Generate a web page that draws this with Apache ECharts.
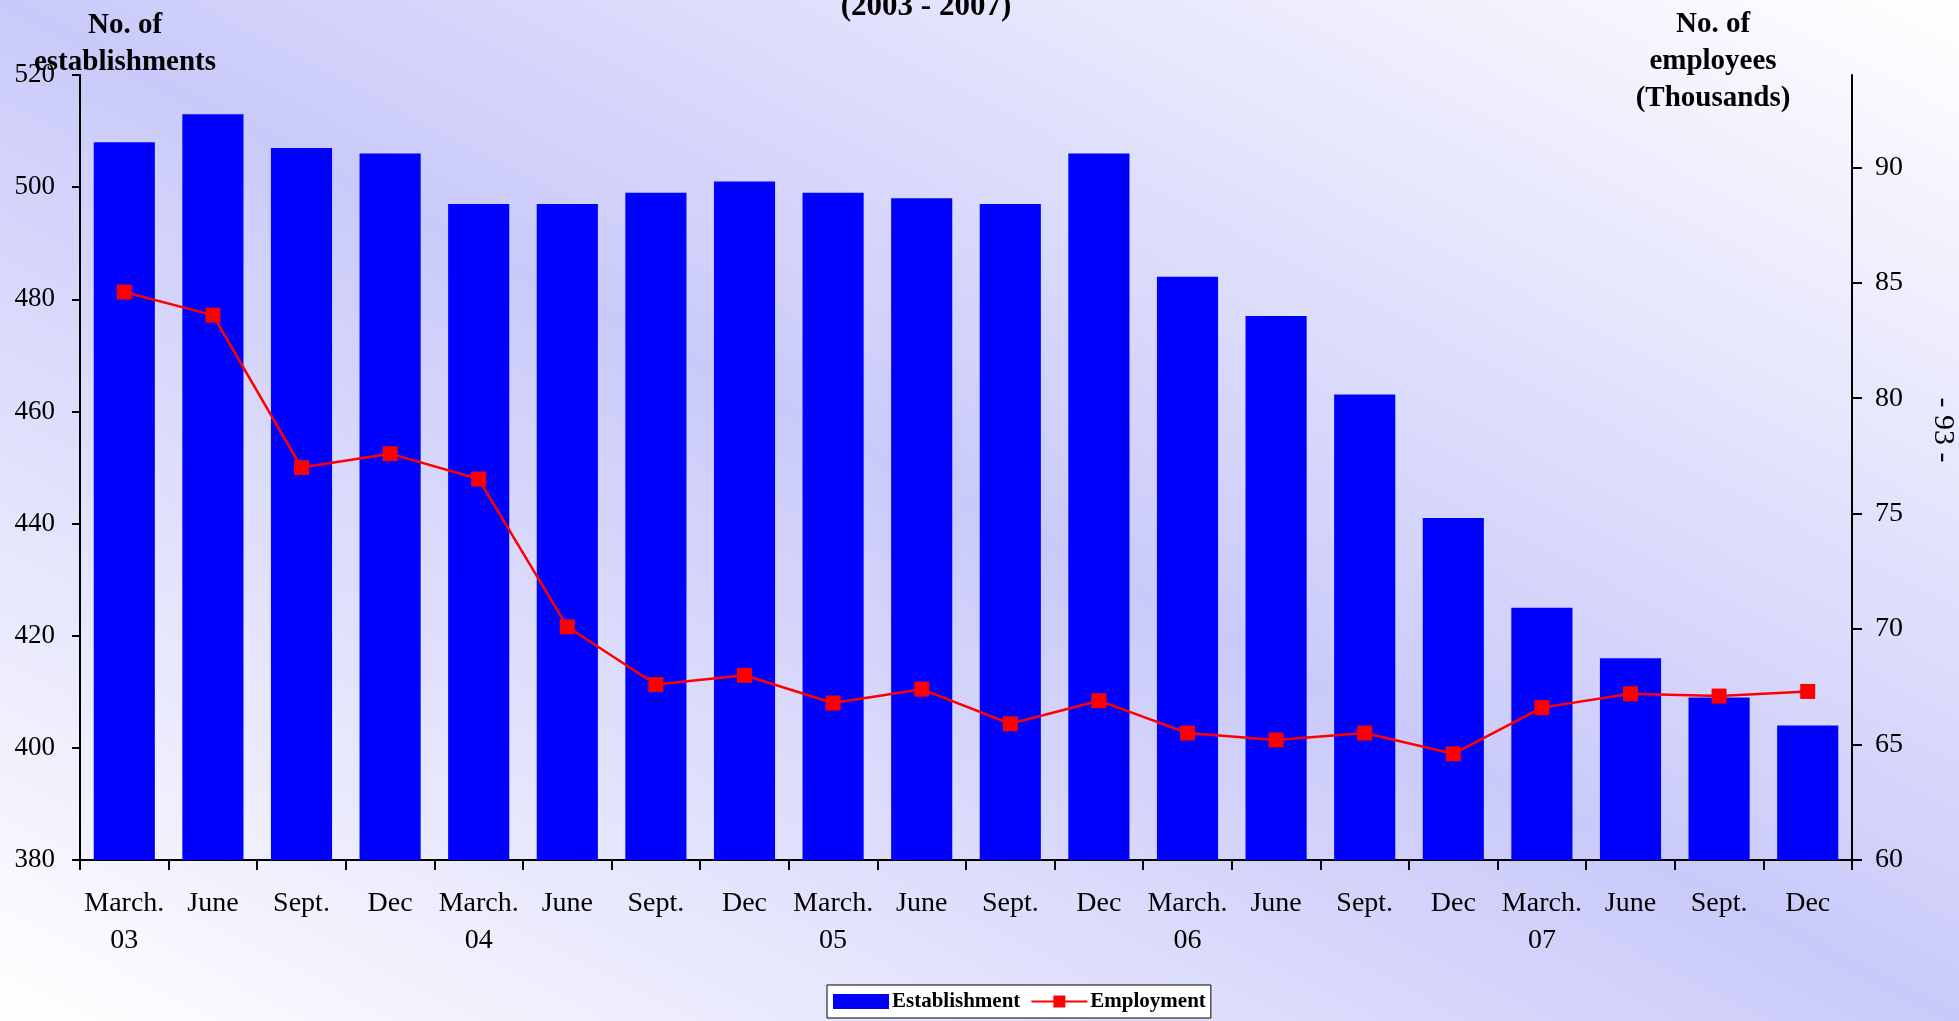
<!DOCTYPE html>
<html lang="en">
	<head>
		<meta charset="UTF-8">
		<title>Establishment and Employment</title>
		<script src="https://cdn.jsdelivr.net/npm/echarts@6/dist/echarts.min.js"></script>
		<style type="text/css">
			html, body {
				margin: 0;
				padding: 0;
				overflow: hidden;
			}
			#main {
				width: 1959px;
				height: 1021px;
			}
		</style>
	</head>
	<body>
		<div id="main"></div>
	</body>
	<script type="text/javascript">
		// 数据
		var quarters = ['March.\n03', 'June', 'Sept.', 'Dec', 'March.\n04', 'June', 'Sept.', 'Dec',
			'March.\n05', 'June', 'Sept.', 'Dec', 'March.\n06', 'June', 'Sept.', 'Dec',
			'March.\n07', 'June', 'Sept.', 'Dec'];
		var establishment = [508, 513, 507, 506, 497, 497, 499, 501, 499, 498, 497, 506,
			484, 477, 463, 441, 425, 416, 409, 404];
		var employment = [84.6, 83.6, 77.0, 77.6, 76.5, 70.1, 67.6, 68.0, 66.8, 67.4, 65.9, 66.9,
			65.5, 65.2, 65.5, 64.6, 66.6, 67.2, 67.1, 67.3];
		var rightTicks = [60, 65, 70, 75, 80, 85, 90];

		var serif = '"Liberation Serif", "Times New Roman", serif';
		var chart = echarts.init(document.getElementById('main'));

		option = {
			backgroundColor: {
				type: 'linear',
				x: 0, y: 1021, x2: 837, y2: -585,
				global: true,
				colorStops: [
					{ offset: 0, color: '#ffffff' },
					{ offset: 0.5, color: '#cacafa' },
					{ offset: 1, color: '#ffffff' }
				]
			},
			textStyle: { fontFamily: serif },
			animation: false,
			grid: {
				left: 80,
				right: 107,
				top: 75,
				bottom: 161
			},
			legend: {
				left: 827,
				top: 985,
				padding: [6, 5, 6, 6],
				itemWidth: 56,
				itemHeight: 15,
				itemGap: 10,
				backgroundColor: '#ffffff',
				borderColor: '#000000',
				borderWidth: 1,
				borderRadius: 0,
				textStyle: {
					fontFamily: serif,
					fontWeight: 'bold',
					fontSize: 21,
					color: '#000000',
					padding: [0, 0, 0, -2]
				},
				data: [
					{ name: 'Establishment', icon: 'rect' },
					{ name: 'Employment' }
				]
			},
			xAxis: {
				type: 'category',
				data: quarters,
				boundaryGap: true,
				axisLine: { lineStyle: { color: '#000000', width: 2 } },
				axisTick: { show: true, interval: 0, length: 10, lineStyle: { color: '#000000', width: 2 } },
				axisLabel: {
					interval: 0,
					margin: 25,
					color: '#000000',
					fontFamily: serif,
					fontSize: 28,
					lineHeight: 37
				},
				splitLine: { show: false }
			},
			yAxis: [
				{
					type: 'value',
					position: 'left',
					min: 380,
					max: 520,
					interval: 20,
					axisLine: { show: true, lineStyle: { color: '#000000', width: 2 } },
					axisTick: { show: true, length: 8, lineStyle: { color: '#000000', width: 2 } },
					axisLabel: { margin: 25, color: '#000000', fontFamily: serif, fontSize: 27 },
					splitLine: { show: false }
				},
				{
					type: 'value',
					position: 'right',
					min: 60,
					max: 94,
					interval: 5,
					axisLine: { show: true, lineStyle: { color: '#000000', width: 2 } },
					axisTick: { show: true, length: 10, customValues: rightTicks, lineStyle: { color: '#000000', width: 2 } },
					axisLabel: { margin: 23, customValues: rightTicks, color: '#000000', fontFamily: serif, fontSize: 28 },
					splitLine: { show: false }
				}
			],
			series: [
				{
					name: 'Establishment',
					type: 'bar',
					yAxisIndex: 0,
					barCategoryGap: '31%',
					itemStyle: { color: '#0000ff' },
					data: establishment
				},
				{
					name: 'Employment',
					type: 'line',
					yAxisIndex: 1,
					symbol: 'rect',
					symbolSize: 15,
					itemStyle: { color: '#ff0000' },
					lineStyle: { color: '#ff0000', width: 2.5 },
					data: employment
				}
			],
			graphic: [
				{
					type: 'text',
					x: 926,
					y: 7,
					style: {
						text: '(2003 - 2007)',
						textAlign: 'center',
						textVerticalAlign: 'middle',
						font: 'bold 31px ' + serif,
						fill: '#000000'
					}
				},
				{
					type: 'text',
					x: 125,
					y: 6.5,
					style: {
						text: 'No. of\nestablishments',
						textAlign: 'center',
						textVerticalAlign: 'top',
						font: 'bold 29px ' + serif,
						lineHeight: 37.5,
						fill: '#000000'
					}
				},
				{
					type: 'text',
					x: 1713,
					y: 6.5,
					style: {
						text: 'No. of\nemployees\n(Thousands)',
						textAlign: 'center',
						textVerticalAlign: 'top',
						font: 'bold 29px ' + serif,
						lineHeight: 37,
						fill: '#000000'
					}
				},
				{
					type: 'text',
					x: 1943,
					y: 430,
					rotation: -Math.PI / 2,
					style: {
						text: '- 93 -',
						textAlign: 'center',
						textVerticalAlign: 'middle',
						font: '30px ' + serif,
						fill: '#000000'
					}
				}
			]
		};
		chart.setOption(option);
	</script>
</html>
